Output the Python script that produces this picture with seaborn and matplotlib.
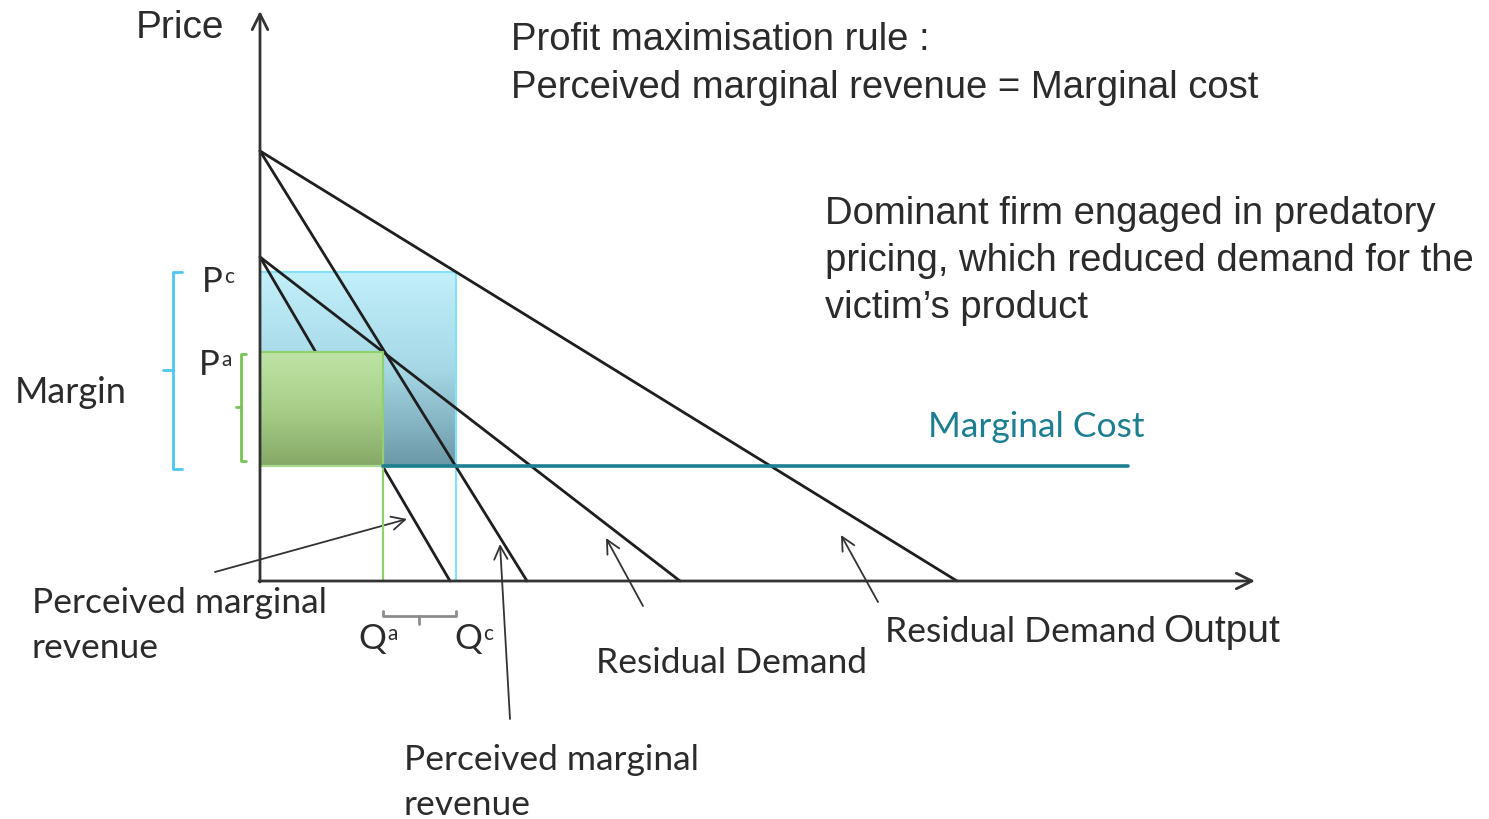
import numpy as np
import pandas as pd
import matplotlib
matplotlib.use("Agg")
import matplotlib.pyplot as plt
from matplotlib.colors import LinearSegmentedColormap
import seaborn as sns

# ---------------- data (diagram units: output to the right, price upward) ----------------
curve_names = ["Residual demand (before)", "Perceived MR (before)",
               "Residual demand (after)", "Perceived MR (after)"]
price_intercepts = [430, 430, 324, 324]
quantity_intercepts = [697, 267, 420, 190]
marginal_cost = 115
mc_line_end = 868
axis_ends = [995, 570]          # output axis length, price axis length

def price_at(i, q):
    return price_intercepts[i] * (1 - q / quantity_intercepts[i])

def qty_at(i, p):
    return quantity_intercepts[i] * (1 - p / price_intercepts[i])

Qc = qty_at(1, marginal_cost)   # before predation
Qa = qty_at(3, marginal_cost)   # after predation
Pc = price_at(0, Qc)
Pa = price_at(2, Qa)

# ---------------- figure ----------------
sns.set_theme(style="white")
plt.rcParams["font.family"] = ["Liberation Sans", "DejaVu Sans"]
W, H = 1489, 820
fig = plt.figure(figsize=(W / 100, H / 100), dpi=100)
ax = fig.add_axes([0, 0, 1, 1])
OX, OY = 260, 582               # origin in pixels


def at(px, py):
    return px - OX, OY - py


TXT = "#2b2b2b"
CAL = ["Lato", "DejaVu Sans"]
ARI = ["Liberation Sans", "DejaVu Sans"]

# gradient rectangles
grad = np.linspace(0, 1, 256).reshape(-1, 1)
blue_cmap = LinearSegmentedColormap.from_list("b", ["#6c98a6", "#a6d8e6", "#c2f0fb"])
green_cmap = LinearSegmentedColormap.from_list("g", ["#86a866", "#a8cf8a", "#bfe4a6"])
ax.imshow(grad, extent=[0, Qc, marginal_cost, Pc], origin="lower", cmap=blue_cmap,
          aspect="auto", zorder=1, interpolation="bilinear")
ax.plot([0, Qc, Qc], [Pc, Pc, 0], color="#86e0f7", lw=1.6, zorder=2)

# demand / MR curves
df = pd.DataFrame({
    "curve": np.repeat(curve_names, 2),
    "q": np.ravel([[0, q] for q in quantity_intercepts]),
    "p": np.ravel([[p, 0] for p in price_intercepts]),
})
for name in curve_names:
    sub = df[df["curve"] == name]
    sns.lineplot(data=sub, x="q", y="p", color="#1e1e1e", lw=2.0, ax=ax,
                 zorder=3, sort=False, estimator=None)

ax.imshow(grad, extent=[0, Qa, marginal_cost, Pa], origin="lower", cmap=green_cmap,
          aspect="auto", zorder=4, interpolation="bilinear")
ax.plot([0, Qa, Qa], [Pa, Pa, 0], color="#8fd16e", lw=1.6, zorder=4.5)
ax.plot([0, Qa], [marginal_cost, marginal_cost], color="#a9d98f", lw=1.6, zorder=4.5)

# marginal cost
ax.plot([Qa, mc_line_end], [marginal_cost, marginal_cost], color="#1d7d91", lw=2.6, zorder=5)

# axes with arrows
ax.annotate("", xy=(axis_ends[0], 0), xytext=(-1, 0),
            arrowprops=dict(arrowstyle="->", lw=2.0, color="#333333", mutation_scale=28,
                            shrinkA=0, shrinkB=0), zorder=6)
ax.annotate("", xy=(0, axis_ends[1]), xytext=(0, -1),
            arrowprops=dict(arrowstyle="->", lw=2.0, color="#333333", mutation_scale=28,
                            shrinkA=0, shrinkB=0), zorder=6)

# brackets
def vbracket(x, y0, y1, color, tick=8, serif=8):
    ym = (y0 + y1) / 2
    ax.plot([x + serif, x, x, x + serif], [y0, y0, y1, y1], color=color, lw=2.0,
            solid_joinstyle="round", zorder=5)
    ax.plot([x, x - tick], [ym, ym], color=color, lw=2.0, zorder=5)

bx, by = at(173, 0)
vbracket(bx, marginal_cost - 3, Pc, "#4cc8f0", tick=10, serif=9)
gx, _ = at(241, 0)
vbracket(gx, marginal_cost + 5, Pa - 2, "#79c256", tick=5, serif=5)
_, qy = at(0, 617)
ax.plot([Qa, Qa, Qc, Qc], [qy + 5, qy, qy, qy + 5], color="#8c8c8c", lw=2.0, zorder=5)
ax.plot([(Qa + Qc) / 2] * 2, [qy, qy - 8], color="#8c8c8c", lw=2.0, zorder=5)

# annotation arrows
arrows = [((215, 573), (407, 520)), ((510, 720), (500, 545)),
          ((643, 607), (606, 539)), ((878, 603), (841, 536))]
for tail, head in arrows:
    ax.annotate("", xy=at(*head), xytext=at(*tail),
                arrowprops=dict(arrowstyle="->", lw=1.3, color="#333333",
                                mutation_scale=24, shrinkA=0, shrinkB=0))

# texts
def txt(px, py, s, size, fam, color=TXT, **kw):
    return ax.text(*at(px, py), s, fontsize=size, family=fam, color=color,
                   ha="left", va="baseline", **kw)

txt(136, 38, "Price", 28, ARI)
txt(511, 50, "Profit maximisation rule :", 27.5, ARI)
txt(511, 98, "Perceived marginal revenue = Marginal cost", 27.5, ARI)
for i, line in enumerate(["Dominant firm engaged in predatory",
                          "pricing, which reduced demand for the",
                          "victim\u2019s product"]):
    txt(825, 224 + 47 * i, line, 27.5, ARI)
txt(1163, 642, "Output", 28, ARI)
txt(928, 437, "Marginal Cost", 25.5, CAL, color="#1d7d91")
txt(15, 403, "Margin", 26, CAL)
txt(885, 642, "Residual Demand", 25.5, CAL)
txt(596, 673, "Residual Demand", 25.5, CAL)
txt(32, 613, "Perceived marginal", 25.5, CAL)
txt(32, 658, "revenue", 25.5, CAL)
txt(404, 770, "Perceived marginal", 25.5, CAL)
txt(404, 815, "revenue", 25.5, CAL)

def sup_label(px, py, base, sup, size=25):
    t = txt(px, py, base, size, CAL)
    ax.annotate(sup, xy=(1.0, 1.0), xycoords=t, ha="left", va="top",
                fontsize=size * 0.6, family=CAL, color=TXT,
                xytext=(1, -1), textcoords="offset points")

sup_label(202, 292, "P", "c")
sup_label(199, 375, "P", "a")
sup_label(358, 649, "Q", "a")
sup_label(454, 649, "Q", "c")

ax.set_xlim(-OX, W - OX)
ax.set_ylim(OY - H, OY)
ax.set_axis_off()
fig.savefig("out.png", dpi=100, facecolor="white")
